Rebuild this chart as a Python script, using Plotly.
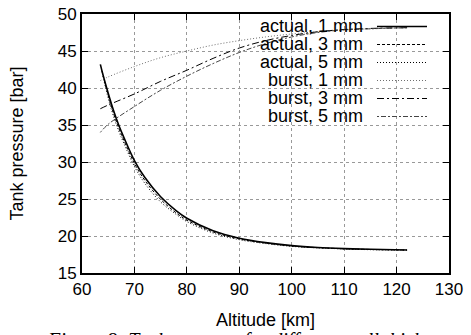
import plotly.graph_objects as go

# ---- data ----
alt_a1 = [63.5, 64, 65, 66, 67, 68, 70, 72, 75, 78, 80, 85, 90, 95, 100, 105, 110, 115, 122]
p_actual_1 = [43.2, 41.8, 39.3, 37.0, 35.0, 33.3, 30.2, 27.9, 25.3, 23.4, 22.4, 20.7, 19.7, 19.1, 18.7, 18.45, 18.3, 18.2, 18.1]
alt_a3 = [63.8, 65, 66, 67, 68, 70, 72, 75, 78, 80, 85, 90, 95, 100, 105, 110, 115, 122]
p_actual_3 = [42.3, 39.0, 36.6, 34.6, 32.9, 29.8, 27.5, 24.95, 23.1, 22.15, 20.55, 19.6, 19.05, 18.65, 18.42, 18.28, 18.18, 18.1]
alt_a5 = [64.0, 65, 66, 67, 68, 70, 72, 75, 78, 80, 85, 90, 95, 100, 105, 110, 115, 122]
p_actual_5 = [41.6, 38.6, 36.2, 34.2, 32.5, 29.4, 27.1, 24.6, 22.9, 21.95, 20.4, 19.5, 18.98, 18.6, 18.4, 18.25, 18.15, 18.08]

alt_b = [63.5, 65, 70, 75, 80, 85, 90, 95, 100, 105, 110, 115, 122]
p_burst_1 = [41.0, 41.5, 42.9, 44.1, 45.0, 45.8, 46.4, 46.9, 47.3, 47.6, 47.85, 48.0, 48.15]
p_burst_3 = [37.2, 37.7, 39.2, 40.9, 42.4, 44.0, 45.4, 46.4, 47.1, 47.6, 47.9, 48.05, 48.15]
p_burst_5 = [34.0, 35.1, 37.5, 39.7, 41.6, 43.3, 44.8, 46.0, 46.9, 47.5, 47.85, 48.0, 48.15]

series_names = ["actual, 1 mm", "actual, 3 mm", "actual, 5 mm", "burst, 1 mm", "burst, 3 mm", "burst, 5 mm"]
x_ticks = [60, 70, 80, 90, 100, 110, 120, 130]
y_ticks = [15, 20, 25, 30, 35, 40, 45, 50]

# ---- styles ----
styles = [
    dict(color="black", width=1.6, dash="solid"),
    dict(color="black", width=1, dash="3px,2px"),
    dict(color="black", width=1, dash="1px,2px"),
    dict(color="#6f6f6f", width=1, dash="1px,2px"),
    dict(color="black", width=1, dash="7px,3px,2px,3px"),
    dict(color="#444444", width=1, dash="2px,2px,5px,2px"),
]
data = [
    (alt_a1, p_actual_1), (alt_a3, p_actual_3), (alt_a5, p_actual_5),
    (alt_b, p_burst_1), (alt_b, p_burst_3), (alt_b, p_burst_5),
]

fig = go.Figure()
for (xs, ys), name, st in zip(data, series_names, styles):
    fig.add_trace(go.Scatter(x=xs, y=ys, mode="lines", name=name, line=st,
                             line_shape="spline", showlegend=False))

W, H = 471, 335
L, R, T, B = 82, 22, 14, 62
pw, ph = W - L - R, H - T - B

def px_x(p):
    return (p - L) / pw

def px_y(p):
    return (H - B - p) / ph

font_family = "Liberation Sans, Arial, sans-serif"

# blank area behind legend (hides grid)
fig.add_shape(type="rect", xref="paper", yref="paper", x0=px_x(240), x1=px_x(438),
              y0=px_y(128), y1=1.0, fillcolor="white", line_width=0, layer="between")

# manual gnuplot-style legend: text right-aligned, sample at the right
row_y = [26, 44, 62, 80, 98, 116]
for name, st, ry in zip(series_names, styles, row_y):
    fig.add_annotation(x=px_x(365), y=px_y(ry), xref="paper", yref="paper", text=name,
                       showarrow=False, xanchor="right", yanchor="middle",
                       font=dict(family=font_family, size=18, color="black"))
    fig.add_shape(type="line", xref="paper", yref="paper", x0=px_x(377), x1=px_x(427),
                  y0=px_y(ry + 0.5), y1=px_y(ry + 0.5), line=st, layer="above")

# axis titles
fig.add_annotation(x=0.5, y=px_y(320), xref="paper", yref="paper", text="Altitude [km]",
                   showarrow=False, xanchor="center", yanchor="middle",
                   font=dict(family=font_family, size=18, color="black"))
fig.add_annotation(x=px_x(16), y=0.5, xref="paper", yref="paper", text="Tank pressure [bar]",
                   showarrow=False, xanchor="center", yanchor="middle", textangle=-90,
                   font=dict(family=font_family, size=18, color="black"))
# caption (cut off at bottom)
fig.add_annotation(x=px_x(45), y=px_y(327), xref="paper", yref="paper",
                   text="<i>Figure 8: Tank pressure for different wall thicknesses</i>",
                   showarrow=False, xanchor="left", yanchor="top",
                   font=dict(family="Liberation Serif, Times New Roman, serif", size=20, color="black"))

axis_common = dict(
    showline=True, linecolor="black", linewidth=2, mirror="ticks",
    ticks="inside", ticklen=6, tickcolor="black", tickwidth=1,
    showgrid=True, gridcolor="#999999", griddash="dot", gridwidth=1,
    zeroline=False, tickfont=dict(family=font_family, size=17, color="black"),
)
fig.update_xaxes(range=[60, 130], tickvals=x_ticks, **axis_common)
fig.update_yaxes(range=[15, 50], tickvals=y_ticks, **axis_common)

fig.update_layout(
    width=W, height=H, margin=dict(l=L, r=R, t=T, b=B, autoexpand=False),
    plot_bgcolor="white", paper_bgcolor="white", showlegend=False,
)

fig.write_html("out.html")
